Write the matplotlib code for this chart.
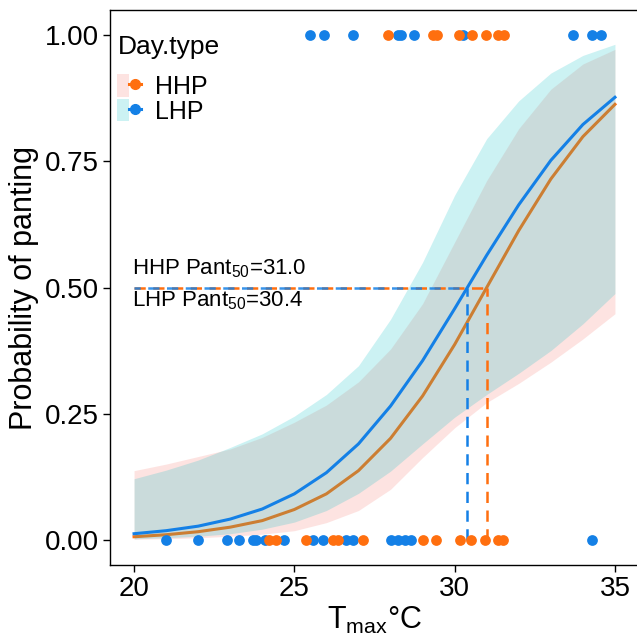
import numpy as np
import matplotlib
matplotlib.use('Agg')
import matplotlib.pyplot as plt
from matplotlib.patches import Patch
from matplotlib.lines import Line2D
from matplotlib.legend_handler import HandlerTuple

plt.rcParams['font.family'] = ['Liberation Sans', 'DejaVu Sans']
plt.rcParams['mathtext.fontset'] = 'custom'
plt.rcParams['mathtext.rm'] = 'Liberation Sans'
plt.rcParams['mathtext.it'] = 'Liberation Sans'

# --- data ---
tmax = [20, 21, 22, 23, 24, 25, 26, 27, 28, 29, 30, 31, 32, 33, 34, 35]

hhp_fit = [0.006, 0.010, 0.016, 0.025, 0.038, 0.060, 0.091, 0.137, 0.201, 0.285,
           0.387, 0.500, 0.613, 0.715, 0.799, 0.863]
hhp_lo = [0.001, 0.002, 0.004, 0.007, 0.011, 0.018, 0.034, 0.058, 0.100, 0.163,
          0.222, 0.272, 0.310, 0.352, 0.398, 0.448]
hhp_hi = [0.137, 0.150, 0.165, 0.180, 0.203, 0.233, 0.267, 0.313, 0.378, 0.468,
          0.590, 0.712, 0.815, 0.893, 0.943, 0.972]

lhp_fit = [0.012, 0.018, 0.027, 0.041, 0.061, 0.091, 0.133, 0.190, 0.265, 0.355,
           0.458, 0.564, 0.664, 0.752, 0.823, 0.877]
lhp_lo = [0.002, 0.004, 0.007, 0.012, 0.021, 0.035, 0.058, 0.092, 0.136, 0.190,
          0.243, 0.288, 0.330, 0.375, 0.428, 0.488]
lhp_hi = [0.121, 0.138, 0.158, 0.183, 0.210, 0.245, 0.288, 0.345, 0.437, 0.550,
          0.683, 0.795, 0.870, 0.925, 0.960, 0.982]

# observed days (panting = 1 / not panting = 0)
hhp_yes = [27.92, 29.33, 29.45, 30.13, 30.53, 30.97, 31.34, 31.53]
lhp_yes = [25.49, 25.91, 26.82, 28.22, 28.34, 28.72, 30.25, 33.69, 34.28, 34.56]
hhp_no = [24.22, 24.43, 25.37, 26.20, 26.35, 27.13, 29.00, 29.43, 30.16, 30.52,
          30.94, 31.35, 31.51]
lhp_no = [20.99, 22.01, 22.90, 23.28, 23.70, 23.80, 24.10, 24.69, 25.57, 25.88,
          26.60, 26.84, 28.02, 28.23, 28.44, 28.65, 34.27]

pant50 = {'HHP': 31.0, 'LHP': 30.4}

orange = '#FF6F0F'
blue = '#1480E6'
pink_fill = '#F8766D'
cyan_fill = '#00BFC4'

fig = plt.figure(figsize=(6.37, 6.37), dpi=100)
ax = fig.add_axes([110/637, 72/637, 529/637, 555/637])

# ribbons + fitted curves (HHP first, LHP ribbon drawn over the HHP line)
ax.fill_between(tmax, hhp_lo, hhp_hi, color=pink_fill, alpha=0.2, lw=0, zorder=1.0)
ax.plot(tmax, hhp_fit, color=orange, lw=2.2, zorder=1.1)
ax.fill_between(tmax, lhp_lo, lhp_hi, color=cyan_fill, alpha=0.2, lw=0, zorder=1.2)
ax.plot(tmax, lhp_fit, color=blue, lw=2.2, zorder=1.3)

# Pant50 guide lines
dash = (0, (4.5, 3))
ax.plot([20, pant50['HHP']], [0.5, 0.5], color=orange, lw=1.8, ls=dash, zorder=2)
ax.plot([pant50['HHP'], pant50['HHP']], [0, 0.5], color=orange, lw=1.8, ls=dash, zorder=2)
ax.plot([20, pant50['LHP']], [0.5, 0.5], color=blue, lw=1.8, ls=(2, (4.5, 3)), zorder=2, alpha=0.85)
ax.plot([pant50['LHP'], pant50['LHP']], [0, 0.5], color=blue, lw=1.8, ls=dash, zorder=2)

# points
ax.scatter(lhp_yes, np.ones(len(lhp_yes)), s=60, color=blue, lw=0, zorder=3)
ax.scatter(lhp_no, np.zeros(len(lhp_no)), s=60, color=blue, lw=0, zorder=3)
ax.scatter(hhp_yes, np.ones(len(hhp_yes)), s=60, color=orange, lw=0, zorder=3)
ax.scatter(hhp_no, np.zeros(len(hhp_no)), s=60, color=orange, lw=0, zorder=3)

ax.text(19.93, 0.538, 'HHP Pant$_{50}$=%.1f' % pant50['HHP'], fontsize=16,
        va='center', ha='left')
ax.text(19.93, 0.474, 'LHP Pant$_{50}$=%.1f' % pant50['LHP'], fontsize=16,
        va='center', ha='left')

ax.set_xlim(19.25, 35.75)
ax.set_ylim(-0.05, 1.05)
ax.set_xticks([20, 25, 30, 35])
ax.set_yticks([0, 0.25, 0.5, 0.75, 1.0])
ax.set_yticklabels(['0.00', '0.25', '0.50', '0.75', '1.00'])
ax.tick_params(labelsize=20, length=5, width=1, colors='black', pad=3)
for sp in ax.spines.values():
    sp.set_linewidth(1)
    sp.set_color('black')

ax.set_xlabel('T$_{\\rm max}$°C', fontsize=22, labelpad=2)
ax.set_ylabel('Probability of panting', fontsize=22, labelpad=4)

handles = [
    (Patch(facecolor=pink_fill, alpha=0.2, lw=0),
     Line2D([], [], color=orange, lw=2.2, marker='o', ms=7)),
    (Patch(facecolor=cyan_fill, alpha=0.2, lw=0),
     Line2D([], [], color=blue, lw=2.2, marker='o', ms=7)),
]
leg = ax.legend(handles, ['HHP', 'LHP'], title='Day.type', loc='upper left',
                bbox_to_anchor=(0.014, 0.955), borderaxespad=0, borderpad=0,
                frameon=False, fontsize=18, title_fontsize=19,
                handler_map={tuple: HandlerTuple(ndivide=None, pad=0)},
                handlelength=0.95, handleheight=1.0, handletextpad=0.55,
                labelspacing=0.0)
leg._legend_box.align = 'left'
leg._legend_box.sep = 11

fig.savefig('out.png', dpi=100)
